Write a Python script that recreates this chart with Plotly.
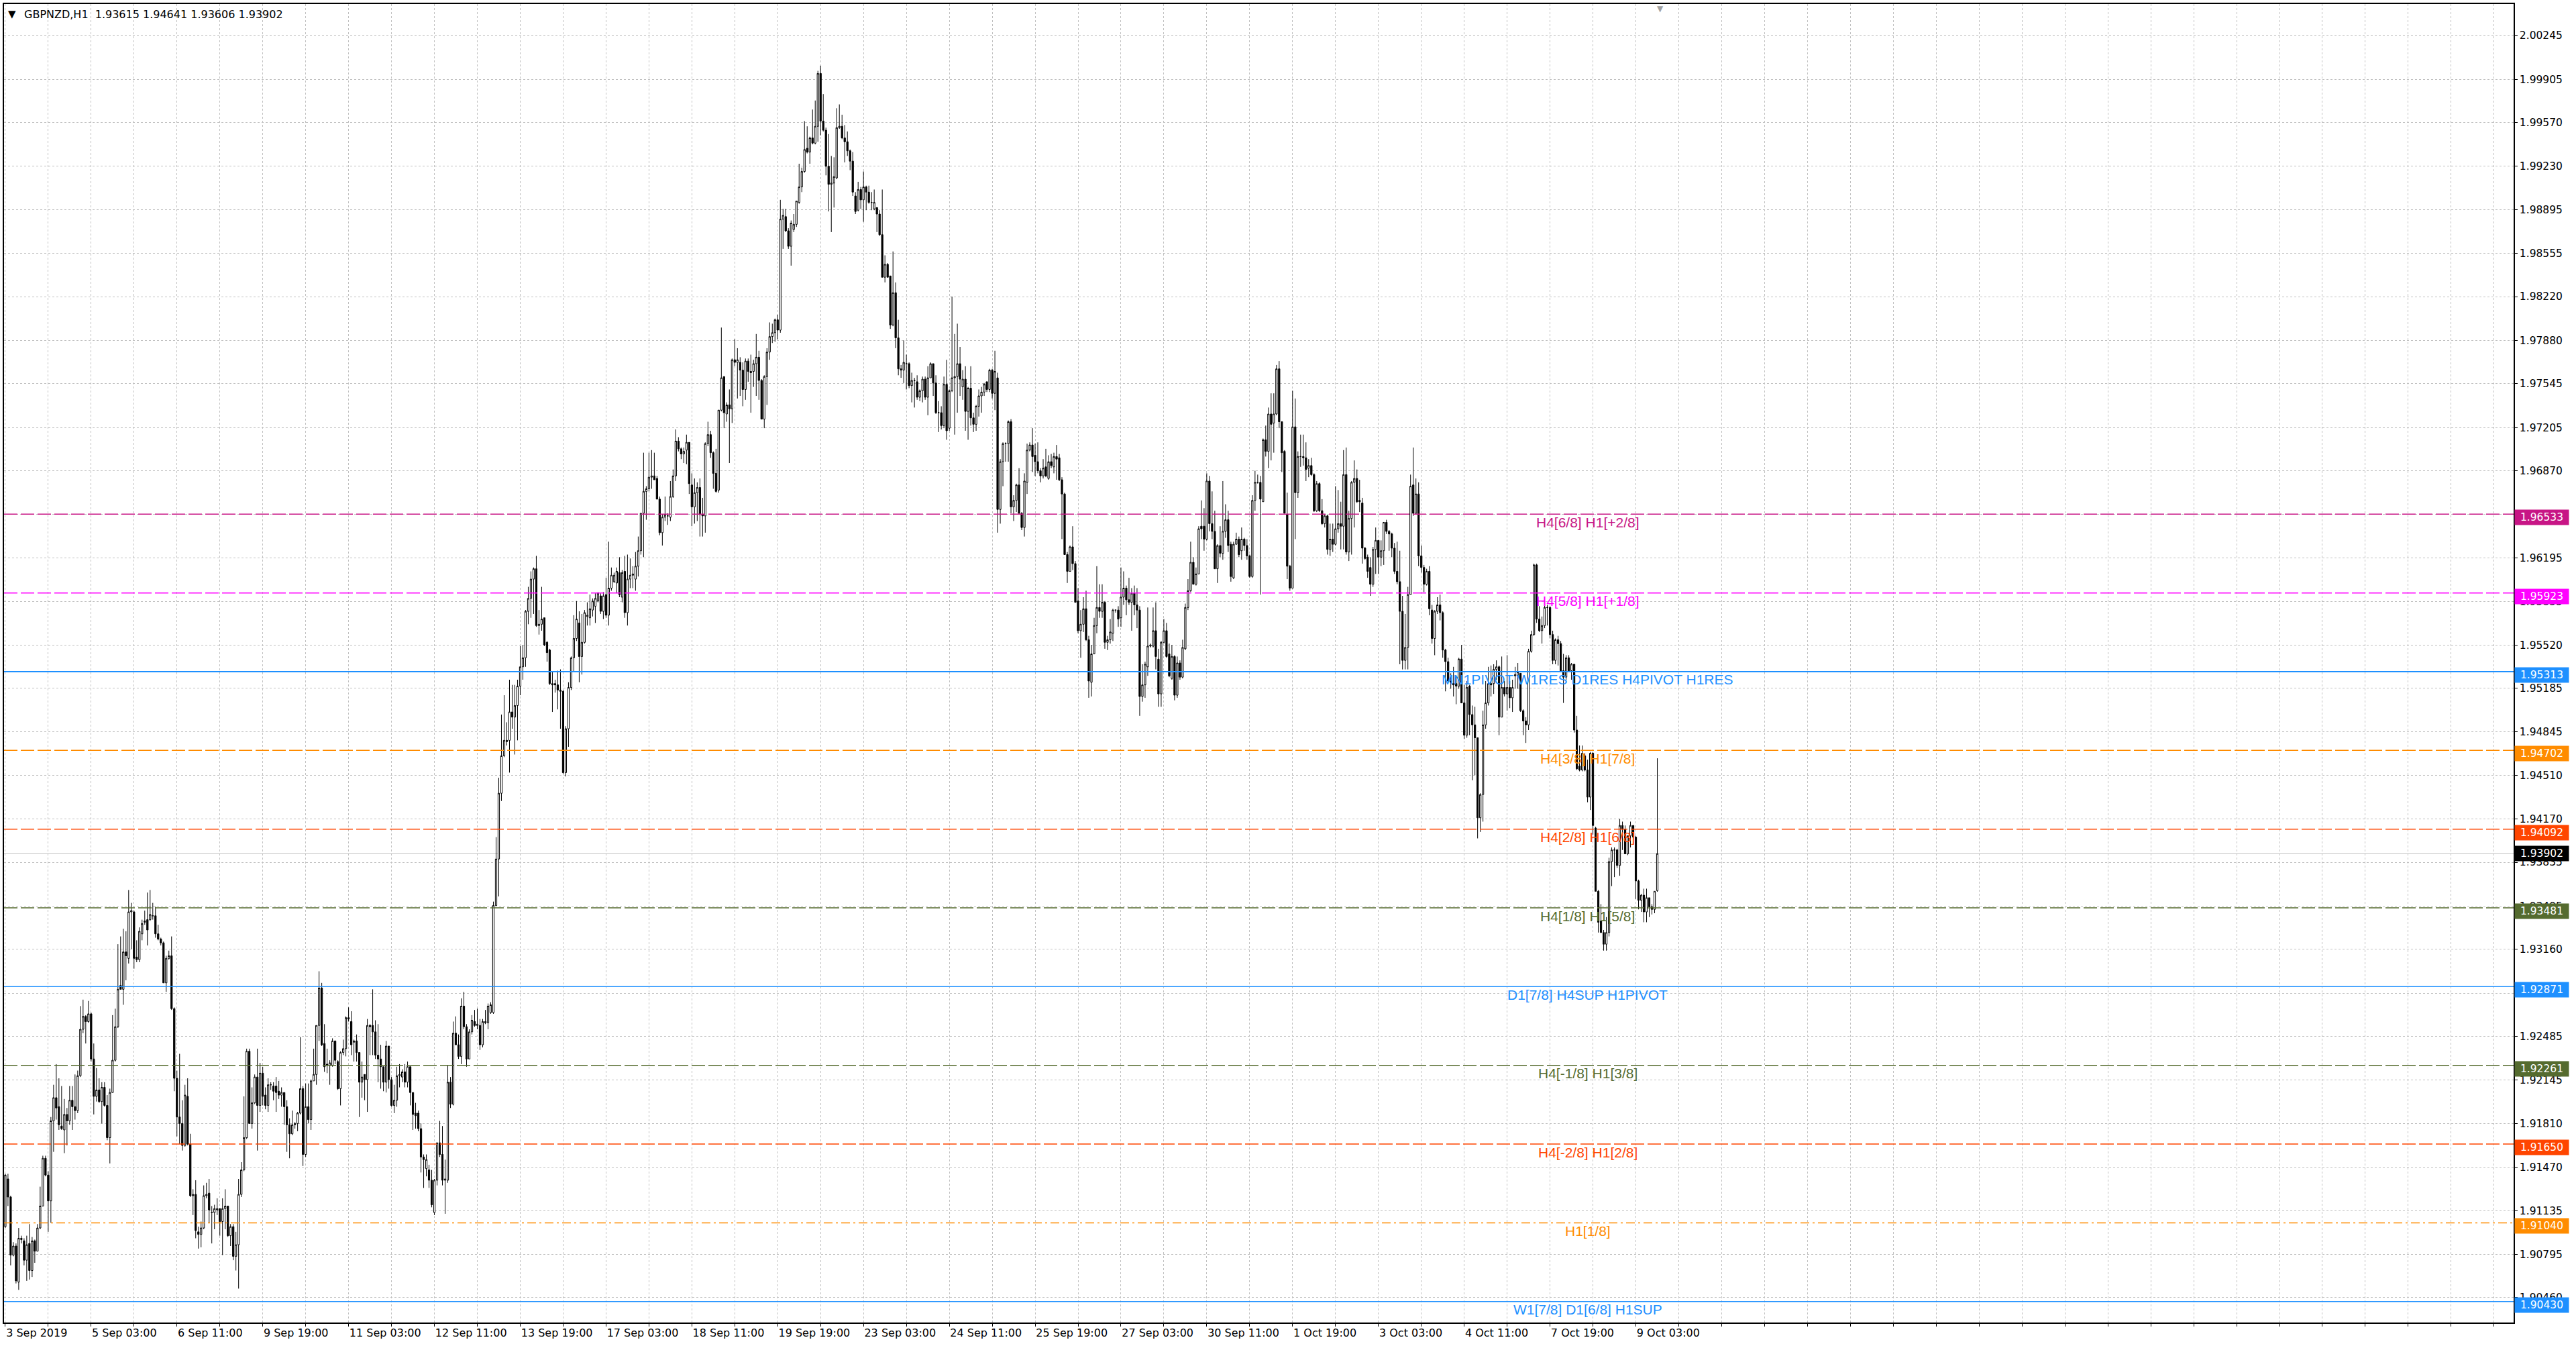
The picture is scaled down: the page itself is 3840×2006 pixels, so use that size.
import plotly.graph_objects as go

# GBPNZD H1 candles, 3 Sep 2019 19:00 .. 9 Oct 2019 11:00 (one bar per trading hour)
bar_open = [
    1.9101, 1.9138, 1.9124, 1.9079, 1.9086, 1.9058, 1.9092, 1.9090, 1.9075, 1.9088,
    1.9067, 1.9090, 1.9082, 1.9100, 1.9117, 1.9154, 1.9141, 1.9121, 1.9183, 1.9201,
    1.9194, 1.9179, 1.9176, 1.9188, 1.9183, 1.9199, 1.9194, 1.9191, 1.9218, 1.9254,
    1.9264, 1.9260, 1.9266, 1.9231, 1.9202, 1.9207, 1.9198, 1.9209, 1.9195, 1.9170,
    1.9205, 1.9230, 1.9256, 1.9288, 1.9285, 1.9314, 1.9309, 1.9345, 1.9345, 1.9310,
    1.9308, 1.9328, 1.9337, 1.9339, 1.9339, 1.9342, 1.9342, 1.9328, 1.9324, 1.9321,
    1.9290, 1.9309, 1.9311, 1.9270, 1.9216, 1.9186, 1.9181, 1.9164, 1.9202, 1.9165,
    1.9125, 1.9126, 1.9097, 1.9095, 1.9100, 1.9125, 1.9127, 1.9112, 1.9112, 1.9114,
    1.9115, 1.9105, 1.9115, 1.9117, 1.9094, 1.9101, 1.9078, 1.9087, 1.9126, 1.9145,
    1.9170, 1.9237, 1.9181, 1.9197, 1.9217, 1.9195, 1.9220, 1.9203, 1.9195, 1.9211,
    1.9210, 1.9210, 1.9206, 1.9203, 1.9205, 1.9194, 1.9180, 1.9173, 1.9180, 1.9181,
    1.9189, 1.9208, 1.9157, 1.9194, 1.9184, 1.9214, 1.9219, 1.9257, 1.9286, 1.9243,
    1.9227, 1.9226, 1.9226, 1.9245, 1.9229, 1.9208, 1.9236, 1.9239, 1.9263, 1.9260,
    1.9244, 1.9245, 1.9236, 1.9213, 1.9219, 1.9215, 1.9257, 1.9257, 1.9252, 1.9234,
    1.9231, 1.9225, 1.9213, 1.9241, 1.9215, 1.9195, 1.9199, 1.9218, 1.9217, 1.9221,
    1.9213, 1.9225, 1.9205, 1.9189, 1.9189, 1.9177, 1.9155, 1.9146, 1.9145, 1.9137,
    1.9112, 1.9137, 1.9166, 1.9157, 1.9137, 1.9137, 1.9213, 1.9196, 1.9251, 1.9242,
    1.9233, 1.9272, 1.9256, 1.9231, 1.9252, 1.9260, 1.9257, 1.9257, 1.9242, 1.9259,
    1.9259, 1.9267, 1.9267, 1.9350, 1.9386, 1.9437, 1.9466, 1.9478, 1.9478, 1.9500,
    1.9496, 1.9505, 1.9520, 1.9535, 1.9542, 1.9578, 1.9588, 1.9603, 1.9611, 1.9567,
    1.9568, 1.9573, 1.9554, 1.9548, 1.9522, 1.9522, 1.9521, 1.9517, 1.9516, 1.9453,
    1.9487, 1.9519, 1.9542, 1.9557, 1.9569, 1.9543, 1.9554, 1.9574, 1.9573, 1.9579,
    1.9582, 1.9586, 1.9590, 1.9578, 1.9591, 1.9575, 1.9596, 1.9601, 1.9600, 1.9608,
    1.9589, 1.9609, 1.9577, 1.9603, 1.9606, 1.9603, 1.9613, 1.9625, 1.9654, 1.9671,
    1.9673, 1.9682, 1.9683, 1.9681, 1.9665, 1.9639, 1.9651, 1.9652, 1.9651, 1.9667,
    1.9683, 1.9710, 1.9704, 1.9700, 1.9703, 1.9709, 1.9676, 1.9659, 1.9670, 1.9674,
    1.9653, 1.9652, 1.9708, 1.9715, 1.9701, 1.9685, 1.9672, 1.9734, 1.9760, 1.9731,
    1.9738, 1.9735, 1.9773, 1.9771, 1.9771, 1.9765, 1.9750, 1.9772, 1.9764, 1.9764,
    1.9770, 1.9775, 1.9757, 1.9727, 1.9760, 1.9779, 1.9791, 1.9794, 1.9804, 1.9796,
    1.9882, 1.9884, 1.9873, 1.9861, 1.9874, 1.9878, 1.9895, 1.9907, 1.9919, 1.9937,
    1.9934, 1.9945, 1.9941, 1.9954, 1.9995, 1.9958, 1.9951, 1.9923, 1.9909, 1.9910,
    1.9914, 1.9953, 1.9954, 1.9945, 1.9942, 1.9935, 1.9927, 1.9900, 1.9889, 1.9905,
    1.9897, 1.9907, 1.9903, 1.9895, 1.9890, 1.9891, 1.9886, 1.9870, 1.9837, 1.9847,
    1.9838, 1.9800, 1.9825, 1.9790, 1.9766, 1.9765, 1.9770, 1.9770, 1.9753, 1.9757,
    1.9756, 1.9744, 1.9749, 1.9758, 1.9744, 1.9759, 1.9770, 1.9755, 1.9732, 1.9732,
    1.9722, 1.9754, 1.9720, 1.9749, 1.9759, 1.9760, 1.9770, 1.9752, 1.9758, 1.9733,
    1.9751, 1.9728, 1.9723, 1.9737, 1.9745, 1.9748, 1.9756, 1.9750, 1.9765, 1.9747,
    1.9759, 1.9657, 1.9694, 1.9708, 1.9708, 1.9725, 1.9659, 1.9664, 1.9676, 1.9654,
    1.9643, 1.9678, 1.9703, 1.9707, 1.9699, 1.9694, 1.9687, 1.9683, 1.9690, 1.9681,
    1.9694, 1.9690, 1.9698, 1.9697, 1.9680, 1.9669, 1.9622, 1.9609, 1.9628, 1.9615,
    1.9586, 1.9563, 1.9568, 1.9580, 1.9556, 1.9523, 1.9545, 1.9567, 1.9581, 1.9578,
    1.9585, 1.9554, 1.9556, 1.9561, 1.9579, 1.9579, 1.9573, 1.9589, 1.9596, 1.9587,
    1.9585, 1.9592, 1.9583, 1.9579, 1.9512, 1.9521, 1.9535, 1.9551, 1.9551, 1.9563,
    1.9541, 1.9514, 1.9554, 1.9563, 1.9545, 1.9526, 1.9543, 1.9513, 1.9538, 1.9527,
    1.9549, 1.9581, 1.9594, 1.9616, 1.9599, 1.9607, 1.9644, 1.9644, 1.9634, 1.9679,
    1.9646, 1.9640, 1.9611, 1.9629, 1.9623, 1.9640, 1.9649, 1.9630, 1.9604, 1.9630,
    1.9634, 1.9625, 1.9634, 1.9629, 1.9621, 1.9605, 1.9664, 1.9678, 1.9678, 1.9663,
    1.9711, 1.9702, 1.9731, 1.9724, 1.9731, 1.9766, 1.9725, 1.9702, 1.9653, 1.9613,
    1.9596, 1.9721, 1.9670, 1.9698, 1.9698, 1.9697, 1.9689, 1.9691, 1.9684, 1.9656,
    1.9677, 1.9656, 1.9646, 1.9652, 1.9626, 1.9634, 1.9630, 1.9642, 1.9646, 1.9644,
    1.9684, 1.9624, 1.9650, 1.9678, 1.9681, 1.9664, 1.9662, 1.9627, 1.9620, 1.9612,
    1.9599, 1.9626, 1.9633, 1.9620, 1.9625, 1.9647, 1.9640, 1.9638, 1.9627, 1.9609,
    1.9601, 1.9578, 1.9540, 1.9550, 1.9591, 1.9676, 1.9654, 1.9669, 1.9621, 1.9612,
    1.9599, 1.9609, 1.9579, 1.9557, 1.9578, 1.9583, 1.9577, 1.9548, 1.9539, 1.9524,
    1.9522, 1.9522, 1.9520, 1.9541, 1.9507, 1.9482, 1.9520, 1.9498, 1.9490, 1.9480,
    1.9418, 1.9436, 1.9490, 1.9507, 1.9522, 1.9522, 1.9533, 1.9535, 1.9496, 1.9519,
    1.9514, 1.9519, 1.9511, 1.9528, 1.9528, 1.9530, 1.9501, 1.9493, 1.9490, 1.9547,
    1.9560, 1.9614, 1.9572, 1.9563, 1.9567, 1.9581, 1.9581, 1.9560, 1.9540, 1.9556,
    1.9553, 1.9532, 1.9527, 1.9542, 1.9532, 1.9537, 1.9486, 1.9458, 1.9455, 1.9466,
    1.9455, 1.9434, 1.9468, 1.9410, 1.9361, 1.9338, 1.9329, 1.9320, 1.9329, 1.9384,
    1.9393, 1.9393, 1.9381, 1.9412, 1.9409, 1.9390, 1.9404, 1.9412, 1.9403, 1.9369,
    1.9354, 1.9358, 1.9345, 1.9356, 1.9349, 1.9347, 1.93615,
]

bar_high = [
    1.9142, 1.9142, 1.9125, 1.9089, 1.9088, 1.9100, 1.9094, 1.9092, 1.9094, 1.9103,
    1.9093, 1.9091, 1.9103, 1.9132, 1.9156, 1.9156, 1.9144, 1.9186, 1.9211, 1.9227,
    1.9216, 1.9210, 1.9200, 1.9193, 1.9210, 1.9210, 1.9219, 1.9222, 1.9272, 1.9277,
    1.9265, 1.9276, 1.9267, 1.9243, 1.9224, 1.9216, 1.9213, 1.9213, 1.9203, 1.9208,
    1.9265, 1.9270, 1.9320, 1.9326, 1.9332, 1.9330, 1.9362, 1.9352, 1.9346, 1.9323,
    1.9333, 1.9339, 1.9346, 1.9360, 1.9362, 1.9352, 1.9349, 1.9335, 1.9325, 1.9322,
    1.9311, 1.9315, 1.9326, 1.9271, 1.9222, 1.9235, 1.9199, 1.9211, 1.9216, 1.9173,
    1.9130, 1.9137, 1.9101, 1.9105, 1.9133, 1.9135, 1.9138, 1.9117, 1.9118, 1.9123,
    1.9115, 1.9123, 1.9130, 1.9117, 1.9103, 1.9103, 1.9097, 1.9138, 1.9151, 1.9202,
    1.9239, 1.9239, 1.9209, 1.9219, 1.9239, 1.9228, 1.9225, 1.9209, 1.9216, 1.9213,
    1.9213, 1.9217, 1.9214, 1.9209, 1.9205, 1.9199, 1.9185, 1.9191, 1.9182, 1.9190,
    1.9248, 1.9210, 1.9212, 1.9212, 1.9215, 1.9239, 1.9257, 1.9299, 1.9290, 1.9258,
    1.9239, 1.9230, 1.9247, 1.9245, 1.9230, 1.9237, 1.9246, 1.9264, 1.9271, 1.9268,
    1.9246, 1.9250, 1.9236, 1.9229, 1.9219, 1.9262, 1.9258, 1.9285, 1.9261, 1.9258,
    1.9242, 1.9225, 1.9245, 1.9241, 1.9217, 1.9211, 1.9225, 1.9227, 1.9223, 1.9227,
    1.9229, 1.9225, 1.9205, 1.9197, 1.9191, 1.9181, 1.9157, 1.9157, 1.9149, 1.9145,
    1.9138, 1.9166, 1.9183, 1.9179, 1.9153, 1.9226, 1.9217, 1.9260, 1.9264, 1.9250,
    1.9278, 1.9283, 1.9258, 1.9254, 1.9265, 1.9269, 1.9270, 1.9262, 1.9262, 1.9269,
    1.9274, 1.9275, 1.9353, 1.9403, 1.9449, 1.9498, 1.9513, 1.9492, 1.9525, 1.9521,
    1.9521, 1.9525, 1.9551, 1.9552, 1.9579, 1.9597, 1.9609, 1.9612, 1.9621, 1.9579,
    1.9597, 1.9573, 1.9555, 1.9549, 1.9531, 1.9525, 1.9532, 1.9533, 1.9517, 1.9489,
    1.9523, 1.9543, 1.9575, 1.9586, 1.9578, 1.9576, 1.9579, 1.9585, 1.9591, 1.9588,
    1.9592, 1.9593, 1.9592, 1.9593, 1.9604, 1.9632, 1.9612, 1.9608, 1.9612, 1.9620,
    1.9610, 1.9621, 1.9622, 1.9619, 1.9613, 1.9624, 1.9636, 1.9654, 1.9701, 1.9675,
    1.9701, 1.9703, 1.9701, 1.9683, 1.9667, 1.9653, 1.9667, 1.9654, 1.9679, 1.9688,
    1.9719, 1.9713, 1.9705, 1.9705, 1.9715, 1.9709, 1.9685, 1.9681, 1.9678, 1.9681,
    1.9666, 1.9709, 1.9725, 1.9718, 1.9702, 1.9704, 1.9734, 1.9798, 1.9760, 1.9740,
    1.9750, 1.9774, 1.9789, 1.9782, 1.9775, 1.9771, 1.9774, 1.9774, 1.9777, 1.9773,
    1.9793, 1.9780, 1.9758, 1.9761, 1.9782, 1.9802, 1.9801, 1.9805, 1.9808, 1.9897,
    1.9890, 1.9890, 1.9875, 1.9881, 1.9886, 1.9896, 1.9925, 1.9922, 1.9958, 1.9954,
    1.9946, 1.9967, 1.9974, 1.9997, 2.0001, 1.9979, 1.9953, 1.9948, 1.9931, 1.9930,
    1.9968, 1.9971, 1.9963, 1.9955, 1.9950, 1.9936, 1.9934, 1.9903, 1.9911, 1.9907,
    1.9919, 1.9908, 1.9908, 1.9903, 1.9905, 1.9891, 1.9889, 1.9905, 1.9854, 1.9848,
    1.9838, 1.9857, 1.9833, 1.9804, 1.9769, 1.9788, 1.9777, 1.9771, 1.9763, 1.9759,
    1.9761, 1.9750, 1.9760, 1.9760, 1.9768, 1.9771, 1.9770, 1.9761, 1.9741, 1.9737,
    1.9760, 1.9773, 1.9750, 1.9822, 1.9793, 1.9801, 1.9783, 1.9765, 1.9768, 1.9752,
    1.9768, 1.9732, 1.9738, 1.9750, 1.9752, 1.9755, 1.9756, 1.9766, 1.9766, 1.9780,
    1.9763, 1.9696, 1.9709, 1.9709, 1.9726, 1.9727, 1.9668, 1.9677, 1.9689, 1.9655,
    1.9685, 1.9708, 1.9709, 1.9720, 1.9708, 1.9709, 1.9689, 1.9696, 1.9704, 1.9699,
    1.9700, 1.9701, 1.9707, 1.9700, 1.9682, 1.9670, 1.9624, 1.9629, 1.9644, 1.9617,
    1.9596, 1.9579, 1.9589, 1.9594, 1.9559, 1.9552, 1.9573, 1.9613, 1.9599, 1.9599,
    1.9586, 1.9559, 1.9572, 1.9580, 1.9579, 1.9582, 1.9612, 1.9609, 1.9598, 1.9604,
    1.9596, 1.9598, 1.9596, 1.9582, 1.9537, 1.9539, 1.9581, 1.9553, 1.9581, 1.9585,
    1.9549, 1.9555, 1.9572, 1.9569, 1.9553, 1.9552, 1.9544, 1.9543, 1.9540, 1.9556,
    1.9584, 1.9603, 1.9632, 1.9620, 1.9612, 1.9644, 1.9664, 1.9658, 1.9685, 1.9683,
    1.9671, 1.9656, 1.9630, 1.9644, 1.9679, 1.9661, 1.9656, 1.9632, 1.9632, 1.9639,
    1.9636, 1.9643, 1.9635, 1.9634, 1.9622, 1.9668, 1.9687, 1.9684, 1.9683, 1.9712,
    1.9722, 1.9736, 1.9747, 1.9747, 1.9769, 1.9772, 1.9725, 1.9703, 1.9670, 1.9614,
    1.9749, 1.9743, 1.9702, 1.9715, 1.9715, 1.9709, 1.9696, 1.9697, 1.9685, 1.9679,
    1.9678, 1.9665, 1.9653, 1.9653, 1.9646, 1.9646, 1.9675, 1.9672, 1.9663, 1.9703,
    1.9705, 1.9656, 1.9679, 1.9695, 1.9688, 1.9680, 1.9666, 1.9628, 1.9622, 1.9620,
    1.9628, 1.9643, 1.9633, 1.9633, 1.9647, 1.9649, 1.9641, 1.9639, 1.9631, 1.9632,
    1.9625, 1.9590, 1.9576, 1.9597, 1.9684, 1.9705, 1.9681, 1.9678, 1.9629, 1.9614,
    1.9611, 1.9613, 1.9583, 1.9579, 1.9589, 1.9591, 1.9578, 1.9549, 1.9542, 1.9530,
    1.9535, 1.9528, 1.9542, 1.9552, 1.9521, 1.9524, 1.9521, 1.9505, 1.9504, 1.9480,
    1.9437, 1.9501, 1.9524, 1.9535, 1.9536, 1.9537, 1.9540, 1.9536, 1.9543, 1.9524,
    1.9544, 1.9524, 1.9525, 1.9535, 1.9538, 1.9530, 1.9502, 1.9496, 1.9549, 1.9563,
    1.9615, 1.9615, 1.9582, 1.9574, 1.9585, 1.9583, 1.9582, 1.9563, 1.9557, 1.9559,
    1.9555, 1.9545, 1.9544, 1.9544, 1.9538, 1.9537, 1.9497, 1.9474, 1.9474, 1.9468,
    1.9463, 1.9469, 1.9469, 1.9411, 1.9362, 1.9351, 1.9331, 1.9341, 1.9387, 1.9395,
    1.9395, 1.9394, 1.9417, 1.9415, 1.9412, 1.9404, 1.9415, 1.9412, 1.9404, 1.9370,
    1.9359, 1.9363, 1.9363, 1.9356, 1.9351, 1.9361, 1.94641,
]

bar_low = [
    1.9100, 1.9117, 1.9071, 1.9078, 1.9057, 1.9052, 1.9088, 1.9071, 1.9059, 1.9060,
    1.9062, 1.9073, 1.9082, 1.9099, 1.9117, 1.9140, 1.9097, 1.9104, 1.9159, 1.9184,
    1.9176, 1.9176, 1.9158, 1.9164, 1.9180, 1.9176, 1.9184, 1.9189, 1.9217, 1.9251,
    1.9243, 1.9259, 1.9229, 1.9188, 1.9198, 1.9197, 1.9181, 1.9194, 1.9168, 1.9150,
    1.9205, 1.9229, 1.9255, 1.9285, 1.9273, 1.9292, 1.9305, 1.9316, 1.9301, 1.9306,
    1.9306, 1.9323, 1.9335, 1.9319, 1.9338, 1.9339, 1.9325, 1.9323, 1.9319, 1.9290,
    1.9283, 1.9308, 1.9269, 1.9206, 1.9171, 1.9165, 1.9160, 1.9163, 1.9164, 1.9124,
    1.9110, 1.9092, 1.9084, 1.9085, 1.9099, 1.9123, 1.9104, 1.9088, 1.9099, 1.9110,
    1.9094, 1.9079, 1.9099, 1.9093, 1.9086, 1.9075, 1.9067, 1.9053, 1.9124, 1.9144,
    1.9169, 1.9181, 1.9177, 1.9196, 1.9160, 1.9190, 1.9195, 1.9192, 1.9190, 1.9207,
    1.9199, 1.9190, 1.9200, 1.9194, 1.9180, 1.9159, 1.9154, 1.9172, 1.9177, 1.9175,
    1.9188, 1.9148, 1.9155, 1.9181, 1.9176, 1.9214, 1.9211, 1.9245, 1.9241, 1.9221,
    1.9220, 1.9211, 1.9225, 1.9227, 1.9207, 1.9195, 1.9234, 1.9233, 1.9260, 1.9234,
    1.9229, 1.9229, 1.9186, 1.9201, 1.9199, 1.9190, 1.9234, 1.9234, 1.9231, 1.9213,
    1.9208, 1.9206, 1.9205, 1.9208, 1.9194, 1.9189, 1.9194, 1.9209, 1.9213, 1.9209,
    1.9209, 1.9195, 1.9176, 1.9177, 1.9175, 1.9143, 1.9131, 1.9140, 1.9131, 1.9116,
    1.9110, 1.9133, 1.9155, 1.9133, 1.9111, 1.9135, 1.9193, 1.9195, 1.9242, 1.9231,
    1.9227, 1.9254, 1.9225, 1.9231, 1.9250, 1.9256, 1.9254, 1.9238, 1.9240, 1.9258,
    1.9254, 1.9266, 1.9266, 1.9350, 1.9357, 1.9431, 1.9465, 1.9474, 1.9453, 1.9487,
    1.9467, 1.9478, 1.9513, 1.9525, 1.9535, 1.9568, 1.9573, 1.9576, 1.9566, 1.9560,
    1.9563, 1.9551, 1.9539, 1.9521, 1.9500, 1.9515, 1.9502, 1.9487, 1.9452, 1.9450,
    1.9473, 1.9517, 1.9531, 1.9555, 1.9523, 1.9529, 1.9553, 1.9567, 1.9567, 1.9574,
    1.9569, 1.9585, 1.9576, 1.9572, 1.9573, 1.9567, 1.9594, 1.9600, 1.9592, 1.9589,
    1.9585, 1.9573, 1.9567, 1.9596, 1.9596, 1.9594, 1.9605, 1.9622, 1.9620, 1.9649,
    1.9671, 1.9673, 1.9680, 1.9665, 1.9637, 1.9629, 1.9648, 1.9645, 1.9648, 1.9666,
    1.9679, 1.9702, 1.9696, 1.9693, 1.9692, 1.9669, 1.9644, 1.9646, 1.9648, 1.9636,
    1.9636, 1.9639, 1.9706, 1.9697, 1.9673, 1.9670, 1.9670, 1.9733, 1.9720, 1.9725,
    1.9693, 1.9724, 1.9768, 1.9743, 1.9745, 1.9737, 1.9742, 1.9756, 1.9732, 1.9752,
    1.9745, 1.9742, 1.9727, 1.9720, 1.9738, 1.9773, 1.9786, 1.9787, 1.9789, 1.9794,
    1.9859, 1.9872, 1.9859, 1.9846, 1.9872, 1.9876, 1.9894, 1.9903, 1.9918, 1.9933,
    1.9925, 1.9940, 1.9940, 1.9942, 1.9947, 1.9950, 1.9916, 1.9888, 1.9872, 1.9891,
    1.9913, 1.9952, 1.9944, 1.9926, 1.9931, 1.9920, 1.9900, 1.9886, 1.9888, 1.9890,
    1.9880, 1.9889, 1.9894, 1.9889, 1.9889, 1.9872, 1.9869, 1.9837, 1.9833, 1.9837,
    1.9797, 1.9799, 1.9782, 1.9761, 1.9759, 1.9755, 1.9750, 1.9751, 1.9740, 1.9736,
    1.9742, 1.9741, 1.9740, 1.9742, 1.9730, 1.9759, 1.9745, 1.9731, 1.9717, 1.9719,
    1.9720, 1.9711, 1.9718, 1.9748, 1.9715, 1.9732, 1.9745, 1.9742, 1.9718, 1.9711,
    1.9722, 1.9717, 1.9718, 1.9729, 1.9732, 1.9745, 1.9748, 1.9748, 1.9743, 1.9734,
    1.9639, 1.9646, 1.9675, 1.9694, 1.9694, 1.9654, 1.9648, 1.9655, 1.9653, 1.9641,
    1.9636, 1.9669, 1.9702, 1.9686, 1.9683, 1.9685, 1.9678, 1.9681, 1.9682, 1.9680,
    1.9689, 1.9685, 1.9680, 1.9679, 1.9634, 1.9622, 1.9600, 1.9609, 1.9610, 1.9585,
    1.9561, 1.9542, 1.9562, 1.9555, 1.9511, 1.9512, 1.9545, 1.9561, 1.9573, 1.9573,
    1.9549, 1.9548, 1.9553, 1.9555, 1.9577, 1.9566, 1.9566, 1.9583, 1.9575, 1.9583,
    1.9563, 1.9575, 1.9565, 1.9497, 1.9508, 1.9511, 1.9528, 1.9550, 1.9550, 1.9533,
    1.9504, 1.9504, 1.9553, 1.9542, 1.9527, 1.9525, 1.9509, 1.9511, 1.9525, 1.9526,
    1.9548, 1.9579, 1.9593, 1.9599, 1.9598, 1.9607, 1.9634, 1.9625, 1.9633, 1.9640,
    1.9634, 1.9611, 1.9600, 1.9620, 1.9618, 1.9635, 1.9624, 1.9601, 1.9603, 1.9630,
    1.9620, 1.9618, 1.9625, 1.9618, 1.9604, 1.9604, 1.9656, 1.9677, 1.9591, 1.9663,
    1.9698, 1.9689, 1.9695, 1.9701, 1.9730, 1.9720, 1.9686, 1.9654, 1.9603, 1.9594,
    1.9596, 1.9634, 1.9666, 1.9690, 1.9691, 1.9679, 1.9682, 1.9683, 1.9655, 1.9655,
    1.9655, 1.9645, 1.9643, 1.9622, 1.9621, 1.9624, 1.9629, 1.9639, 1.9626, 1.9626,
    1.9622, 1.9617, 1.9622, 1.9643, 1.9662, 1.9655, 1.9615, 1.9618, 1.9604, 1.9590,
    1.9597, 1.9607, 1.9607, 1.9613, 1.9614, 1.9638, 1.9625, 1.9620, 1.9607, 1.9599,
    1.9537, 1.9533, 1.9533, 1.9533, 1.9591, 1.9652, 1.9653, 1.9613, 1.9608, 1.9593,
    1.9598, 1.9575, 1.9553, 1.9544, 1.9576, 1.9571, 1.9542, 1.9516, 1.9523, 1.9518,
    1.9512, 1.9506, 1.9518, 1.9507, 1.9479, 1.9480, 1.9482, 1.9447, 1.9451, 1.9402,
    1.9407, 1.9415, 1.9487, 1.9505, 1.9512, 1.9514, 1.9525, 1.9482, 1.9496, 1.9512,
    1.9501, 1.9503, 1.9500, 1.9518, 1.9518, 1.9500, 1.9482, 1.9476, 1.9486, 1.9546,
    1.9559, 1.9569, 1.9562, 1.9553, 1.9565, 1.9567, 1.9557, 1.9537, 1.9537, 1.9536,
    1.9532, 1.9507, 1.9525, 1.9532, 1.9525, 1.9484, 1.9455, 1.9454, 1.9454, 1.9454,
    1.9430, 1.9424, 1.9405, 1.9361, 1.9329, 1.9329, 1.9315, 1.9315, 1.9326, 1.9365,
    1.9372, 1.9379, 1.9373, 1.9393, 1.9390, 1.9389, 1.9395, 1.9402, 1.9355, 1.9347,
    1.9345, 1.9337, 1.9337, 1.9341, 1.9343, 1.9344, 1.93606,
]

bar_close = [
    1.9141, 1.9124, 1.9079, 1.9086, 1.9059, 1.9092, 1.9091, 1.9075, 1.9087, 1.9067,
    1.9090, 1.9082, 1.9100, 1.9117, 1.9154, 1.9141, 1.9121, 1.9183, 1.9201, 1.9193,
    1.9180, 1.9177, 1.9188, 1.9183, 1.9199, 1.9194, 1.9191, 1.9218, 1.9254, 1.9264,
    1.9260, 1.9266, 1.9231, 1.9202, 1.9207, 1.9198, 1.9209, 1.9195, 1.9170, 1.9205,
    1.9230, 1.9256, 1.9285, 1.9285, 1.9314, 1.9311, 1.9345, 1.9346, 1.9309, 1.9308,
    1.9330, 1.9336, 1.9338, 1.9331, 1.9343, 1.9342, 1.9328, 1.9324, 1.9321, 1.9290,
    1.9309, 1.9311, 1.9270, 1.9216, 1.9186, 1.9181, 1.9164, 1.9203, 1.9165, 1.9125,
    1.9126, 1.9098, 1.9095, 1.9100, 1.9125, 1.9126, 1.9114, 1.9112, 1.9115, 1.9115,
    1.9105, 1.9115, 1.9117, 1.9094, 1.9101, 1.9078, 1.9087, 1.9126, 1.9145, 1.9170,
    1.9237, 1.9181, 1.9197, 1.9217, 1.9195, 1.9220, 1.9202, 1.9195, 1.9211, 1.9211,
    1.9206, 1.9205, 1.9203, 1.9205, 1.9194, 1.9180, 1.9173, 1.9180, 1.9181, 1.9189,
    1.9208, 1.9157, 1.9194, 1.9184, 1.9214, 1.9219, 1.9257, 1.9286, 1.9242, 1.9225,
    1.9226, 1.9228, 1.9245, 1.9230, 1.9208, 1.9236, 1.9239, 1.9263, 1.9262, 1.9242,
    1.9245, 1.9236, 1.9213, 1.9217, 1.9215, 1.9257, 1.9256, 1.9252, 1.9234, 1.9231,
    1.9225, 1.9213, 1.9241, 1.9215, 1.9195, 1.9199, 1.9218, 1.9219, 1.9221, 1.9213,
    1.9225, 1.9205, 1.9188, 1.9187, 1.9177, 1.9155, 1.9153, 1.9153, 1.9137, 1.9118,
    1.9137, 1.9166, 1.9157, 1.9137, 1.9138, 1.9213, 1.9196, 1.9251, 1.9242, 1.9233,
    1.9272, 1.9256, 1.9231, 1.9252, 1.9261, 1.9257, 1.9258, 1.9242, 1.9260, 1.9260,
    1.9272, 1.9273, 1.9350, 1.9386, 1.9437, 1.9466, 1.9478, 1.9477, 1.9500, 1.9496,
    1.9505, 1.9520, 1.9535, 1.9542, 1.9578, 1.9588, 1.9603, 1.9611, 1.9567, 1.9568,
    1.9572, 1.9552, 1.9546, 1.9522, 1.9521, 1.9521, 1.9517, 1.9516, 1.9453, 1.9487,
    1.9519, 1.9542, 1.9557, 1.9572, 1.9543, 1.9554, 1.9577, 1.9575, 1.9580, 1.9586,
    1.9588, 1.9592, 1.9578, 1.9590, 1.9575, 1.9596, 1.9606, 1.9606, 1.9609, 1.9591,
    1.9608, 1.9577, 1.9603, 1.9606, 1.9607, 1.9613, 1.9625, 1.9654, 1.9671, 1.9673,
    1.9682, 1.9683, 1.9680, 1.9665, 1.9639, 1.9651, 1.9653, 1.9652, 1.9667, 1.9683,
    1.9710, 1.9704, 1.9700, 1.9702, 1.9709, 1.9677, 1.9659, 1.9670, 1.9674, 1.9653,
    1.9652, 1.9708, 1.9715, 1.9701, 1.9685, 1.9671, 1.9734, 1.9759, 1.9732, 1.9738,
    1.9735, 1.9773, 1.9771, 1.9773, 1.9765, 1.9750, 1.9772, 1.9764, 1.9763, 1.9770,
    1.9775, 1.9757, 1.9727, 1.9760, 1.9779, 1.9791, 1.9794, 1.9804, 1.9796, 1.9882,
    1.9885, 1.9873, 1.9861, 1.9879, 1.9878, 1.9896, 1.9907, 1.9919, 1.9936, 1.9934,
    1.9945, 1.9941, 1.9954, 1.9995, 1.9958, 1.9951, 1.9923, 1.9909, 1.9910, 1.9915,
    1.9953, 1.9954, 1.9945, 1.9942, 1.9935, 1.9927, 1.9903, 1.9888, 1.9905, 1.9897,
    1.9907, 1.9903, 1.9895, 1.9895, 1.9895, 1.9886, 1.9870, 1.9837, 1.9847, 1.9837,
    1.9800, 1.9825, 1.9790, 1.9766, 1.9765, 1.9771, 1.9770, 1.9753, 1.9757, 1.9757,
    1.9744, 1.9749, 1.9758, 1.9744, 1.9759, 1.9770, 1.9755, 1.9732, 1.9732, 1.9722,
    1.9754, 1.9718, 1.9749, 1.9759, 1.9760, 1.9770, 1.9758, 1.9758, 1.9733, 1.9751,
    1.9728, 1.9723, 1.9737, 1.9745, 1.9748, 1.9754, 1.9750, 1.9765, 1.9747, 1.9764,
    1.9657, 1.9694, 1.9708, 1.9708, 1.9725, 1.9659, 1.9664, 1.9676, 1.9654, 1.9643,
    1.9679, 1.9703, 1.9707, 1.9698, 1.9694, 1.9687, 1.9683, 1.9689, 1.9683, 1.9694,
    1.9691, 1.9698, 1.9696, 1.9680, 1.9669, 1.9622, 1.9609, 1.9628, 1.9615, 1.9585,
    1.9563, 1.9568, 1.9580, 1.9556, 1.9524, 1.9545, 1.9567, 1.9581, 1.9578, 1.9585,
    1.9554, 1.9556, 1.9562, 1.9579, 1.9579, 1.9572, 1.9589, 1.9596, 1.9587, 1.9585,
    1.9592, 1.9583, 1.9579, 1.9512, 1.9521, 1.9537, 1.9551, 1.9552, 1.9563, 1.9543,
    1.9514, 1.9554, 1.9563, 1.9543, 1.9528, 1.9543, 1.9513, 1.9538, 1.9527, 1.9550,
    1.9581, 1.9594, 1.9616, 1.9599, 1.9607, 1.9642, 1.9642, 1.9634, 1.9679, 1.9646,
    1.9640, 1.9611, 1.9629, 1.9623, 1.9640, 1.9649, 1.9629, 1.9605, 1.9630, 1.9634,
    1.9622, 1.9634, 1.9629, 1.9621, 1.9605, 1.9664, 1.9678, 1.9678, 1.9665, 1.9711,
    1.9702, 1.9731, 1.9723, 1.9731, 1.9766, 1.9725, 1.9701, 1.9654, 1.9613, 1.9596,
    1.9721, 1.9670, 1.9698, 1.9698, 1.9697, 1.9688, 1.9691, 1.9684, 1.9656, 1.9677,
    1.9656, 1.9646, 1.9652, 1.9626, 1.9634, 1.9630, 1.9642, 1.9646, 1.9644, 1.9684,
    1.9624, 1.9650, 1.9678, 1.9681, 1.9663, 1.9663, 1.9627, 1.9619, 1.9609, 1.9599,
    1.9626, 1.9633, 1.9620, 1.9625, 1.9647, 1.9640, 1.9638, 1.9627, 1.9609, 1.9601,
    1.9578, 1.9540, 1.9550, 1.9591, 1.9675, 1.9654, 1.9669, 1.9621, 1.9612, 1.9599,
    1.9609, 1.9580, 1.9557, 1.9578, 1.9583, 1.9577, 1.9548, 1.9539, 1.9524, 1.9523,
    1.9521, 1.9520, 1.9541, 1.9507, 1.9482, 1.9519, 1.9498, 1.9490, 1.9480, 1.9418,
    1.9436, 1.9490, 1.9507, 1.9522, 1.9521, 1.9533, 1.9535, 1.9496, 1.9519, 1.9514,
    1.9519, 1.9511, 1.9519, 1.9529, 1.9531, 1.9501, 1.9493, 1.9490, 1.9547, 1.9560,
    1.9614, 1.9572, 1.9563, 1.9567, 1.9581, 1.9581, 1.9560, 1.9540, 1.9556, 1.9553,
    1.9532, 1.9527, 1.9542, 1.9532, 1.9537, 1.9486, 1.9456, 1.9455, 1.9468, 1.9455,
    1.9434, 1.9468, 1.9412, 1.9361, 1.9337, 1.9329, 1.9320, 1.9329, 1.9384, 1.9393,
    1.9393, 1.9381, 1.9412, 1.9409, 1.9390, 1.9404, 1.9412, 1.9403, 1.9369, 1.9354,
    1.9358, 1.9345, 1.9356, 1.9349, 1.9347, 1.9361, 1.93902,
]

# time axis labels, one every 32 bars
time_labels = [
    "3 Sep 2019", "5 Sep 03:00", "6 Sep 11:00", "9 Sep 19:00", "11 Sep 03:00",
    "12 Sep 11:00", "13 Sep 19:00", "17 Sep 03:00", "18 Sep 11:00", "19 Sep 19:00",
    "23 Sep 03:00", "24 Sep 11:00", "25 Sep 19:00", "27 Sep 03:00", "30 Sep 11:00",
    "1 Oct 19:00", "3 Oct 03:00", "4 Oct 11:00", "7 Oct 19:00", "9 Oct 03:00",
]

price_ticks = [
    2.00245, 1.99905, 1.99570, 1.99230, 1.98895, 1.98555, 1.98220, 1.97880,
    1.97545, 1.97205, 1.96870, 1.96530, 1.96195, 1.95855, 1.95520, 1.95185,
    1.94845, 1.94510, 1.94170, 1.93835, 1.93495, 1.93160, 1.92820, 1.92485,
    1.92145, 1.91810, 1.91470, 1.91135, 1.90795, 1.90460,
]

# Murrey / pivot levels drawn by the indicator
level_prices = [1.96533, 1.95923, 1.95313, 1.94702, 1.94092, 1.93481,
                1.92871, 1.92261, 1.91650, 1.91040, 1.90430]
level_names = [
    "H4[6/8] H1[+2/8]", "H4[5/8] H1[+1/8]", "MN1PIVOT W1RES D1RES H4PIVOT H1RES",
    "H4[3/8] H1[7/8]", "H4[2/8] H1[6/8]", "H4[1/8] H1[5/8]", "D1[7/8] H4SUP H1PIVOT",
    "H4[-1/8] H1[3/8]", "H4[-2/8] H1[2/8]", "H1[1/8]", "W1[7/8] D1[6/8] H1SUP",
]
bid_price = 1.93902
title_text = "GBPNZD,H1\u00a0\u00a01.93615 1.94641 1.93606 1.93902"

# styles
DASH = "20px,5px"
DASHDOT = "13px,5px,3px,5px"
level_colors = ["#C71585", "#FF00FF", "#1E90FF", "#FF8C00", "#FF4500", "#556B2F",
                "#1E90FF", "#556B2F", "#FF4500", "#FF8C00", "#1E90FF"]
level_dash = [DASH, DASH, "solid", DASH, DASH, DASH, "solid", DASH, DASH, DASHDOT, "solid"]
level_width = [1.5, 1.5, 2, 1.5, 1.5, 1.5, 1.2, 1.5, 1.5, 1.5, 1.5]
GRID = "#C0C0C0"
AXIS_FONT = "DejaVu Sans"
LABEL_BAR = 590          # bar where the level captions are centred
BARS_PER_GRID = 16

n = len(bar_close)
assert len(bar_open) == n and len(bar_high) == n and len(bar_low) == n, \
    (len(bar_open), len(bar_high), len(bar_low), n)
bar_index = list(range(n))
highs = [max(h, o, c) for h, o, c in zip(bar_high, bar_open, bar_close)]
lows = [min(l, o, c) for l, o, c in zip(bar_low, bar_open, bar_close)]

fig = go.Figure()

fig.add_trace(go.Candlestick(
    x=bar_index, open=bar_open, high=highs, low=lows, close=bar_close,
    increasing=dict(fillcolor="white", line=dict(color="black", width=1)),
    decreasing=dict(fillcolor="black", line=dict(color="black", width=1)),
    whiskerwidth=0, hoverinfo="skip", showlegend=False,
))

# current bid line
fig.add_hline(y=bid_price, line=dict(color=GRID, width=1), layer="below")

# indicator levels, captions and price boxes
for price, name, color, dash, width in zip(level_prices, level_names, level_colors,
                                             level_dash, level_width):
    fig.add_hline(y=price, line=dict(color=color, width=width, dash=dash))
    fig.add_annotation(x=LABEL_BAR, y=price, xref="x", yref="y", text=name,
                       showarrow=False, xanchor="center", yanchor="middle", yshift=-12,
                       font=dict(family="Liberation Sans, Arial", size=21, color=color))
    fig.add_annotation(x=1, y=price, xref="paper", yref="y", text=f"{price:.5f}",
                       showarrow=False, xanchor="left", yanchor="middle",
                       xshift=1, yshift=-5, bgcolor=color, width=78, height=20,
                       borderpad=1, font=dict(family=AXIS_FONT, size=15.5, color="white"))

fig.add_annotation(x=1, y=bid_price, xref="paper", yref="y", text=f"{bid_price:.5f}",
                   showarrow=False, xanchor="left", yanchor="middle", xshift=1,
                   bgcolor="black", width=78, height=20, borderpad=1,
                   font=dict(family=AXIS_FONT, size=15.5, color="white"))

# chart caption
fig.add_annotation(x=0, y=1, xref="paper", yref="paper", text="\u25bc", showarrow=False,
                   xanchor="left", yanchor="middle", xshift=4, yshift=-15,
                   font=dict(family=AXIS_FONT, size=15, color="black"))
fig.add_annotation(x=0, y=1, xref="paper", yref="paper", text=title_text, showarrow=False,
                   xanchor="left", yanchor="middle", xshift=28, yshift=-15,
                   font=dict(family=AXIS_FONT, size=16, color="black"))
# chart shift marker, drawn just inside the top border
fig.add_annotation(x=n, y=1, xref="x", yref="paper", text="\u25bc", showarrow=False,
                   xanchor="center", yanchor="top", yshift=2,
                   font=dict(family=AXIS_FONT, size=12, color="#A0A0A0"))

x_max = 935.3
grid_vals = list(range(0, int(x_max) + 1, BARS_PER_GRID))
grid_text = []
for v in grid_vals:
    k = v // (2 * BARS_PER_GRID)
    grid_text.append(time_labels[k] if v % (2 * BARS_PER_GRID) == 0 and k < len(time_labels) else "")

fig.update_layout(
    width=3840, height=2006,
    margin=dict(l=4, r=93, t=4, b=35, pad=0),
    paper_bgcolor="white", plot_bgcolor="white",
    showlegend=False, hovermode=False,
    boxgap=0.45, boxgroupgap=0,
    font=dict(family=AXIS_FONT, size=16, color="black"),
    xaxis=dict(
        range=[-0.475, x_max], tickmode="array", tickvals=grid_vals, ticktext=grid_text,
        ticklabelposition="outside right", ticks="outside", ticklen=4, tickcolor="black",
        showgrid=True, gridcolor=GRID, griddash="3px,3px", gridwidth=1,
        showline=True, linecolor="black", linewidth=1.5, mirror=True,
        zeroline=False, rangeslider=dict(visible=False),
        tickfont=dict(family=AXIS_FONT, size=16, color="black"),
    ),
    yaxis=dict(
        side="right", range=[1.90267, 2.00488], tickmode="array",
        tickvals=price_ticks, ticktext=[f"{v:.5f}" for v in price_ticks],
        ticks="outside", ticklen=4, tickcolor="black",
        showgrid=True, gridcolor=GRID, griddash="3px,3px", gridwidth=1,
        showline=True, linecolor="black", linewidth=1.5, mirror=True,
        zeroline=False,
        tickfont=dict(family=AXIS_FONT, size=15.5, color="black"),
    ),
)

# the page body has a default 8px margin; drop it so the figure sits at the window origin
fig.write_html("out.html", config=dict(displayModeBar=False),
               post_script="document.body.style.margin='0';document.body.style.overflow='hidden';")
